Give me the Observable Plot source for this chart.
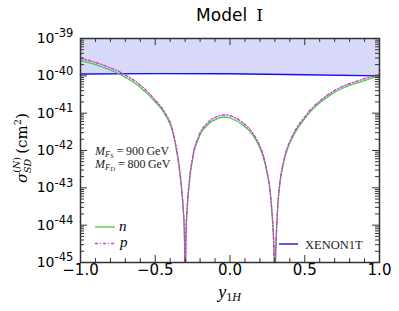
<!DOCTYPE html>
<html><head><meta charset="utf-8">
<script src="https://cdn.jsdelivr.net/npm/d3@7"></script>
<script src="https://cdn.jsdelivr.net/npm/@observablehq/plot@0.6"></script>
<style>
body{margin:0;background:#fff}
#chart{width:399px;height:311px}
</style>
</head><body><div id="chart"></div>
<script>
// Data: [y1H, log10(sigma_SD / cm^2)]
const nCurve = [[-1.0,-39.59],[-0.95,-39.64],[-0.9,-39.70],[-0.85,-39.77],[-0.8,-39.85],[-0.75,-39.93],[-0.7,-40.04],[-0.65,-40.16],[-0.6,-40.31],[-0.55,-40.49],[-0.5,-40.70],[-0.46,-40.88],[-0.43,-41.07],[-0.4,-41.30],[-0.38,-41.56],[-0.365,-41.84],[-0.35,-42.18],[-0.336,-42.58],[-0.325,-42.98],[-0.318,-43.29],[-0.311,-43.70],[-0.306,-44.10],[-0.303,-44.70],[-0.2995,-46.5],[-0.296,-44.70],[-0.293,-44.10],[-0.287,-43.60],[-0.282,-43.29],[-0.273,-42.90],[-0.264,-42.58],[-0.252,-42.28],[-0.242,-42.05],[-0.22,-41.78],[-0.197,-41.55],[-0.165,-41.38],[-0.13,-41.24],[-0.09,-41.16],[-0.052,-41.11],[-0.02,-41.11],[0.003,-41.13],[0.037,-41.19],[0.08,-41.30],[0.126,-41.46],[0.16,-41.63],[0.193,-41.87],[0.217,-42.10],[0.237,-42.40],[0.253,-42.70],[0.266,-43.03],[0.274,-43.35],[0.282,-43.74],[0.288,-44.10],[0.293,-44.55],[0.2965,-45.1],[0.2997,-46.5],[0.303,-45.2],[0.309,-44.37],[0.314,-43.90],[0.32,-43.47],[0.328,-43.10],[0.338,-42.76],[0.355,-42.40],[0.371,-42.13],[0.39,-41.90],[0.416,-41.67],[0.45,-41.42],[0.483,-41.24],[0.538,-40.96],[0.605,-40.71],[0.672,-40.51],[0.761,-40.32],[0.851,-40.19],[0.92,-40.10],[0.962,-40.04],[1.0,-40.00]];
const pCurve = [[-1.0,-39.53],[-0.95,-39.58],[-0.9,-39.64],[-0.85,-39.71],[-0.8,-39.79],[-0.75,-39.87],[-0.7,-39.98],[-0.65,-40.10],[-0.6,-40.25],[-0.55,-40.43],[-0.5,-40.65],[-0.46,-40.83],[-0.43,-41.02],[-0.4,-41.25],[-0.38,-41.52],[-0.365,-41.80],[-0.35,-42.14],[-0.336,-42.55],[-0.325,-42.95],[-0.318,-43.27],[-0.311,-43.68],[-0.306,-44.08],[-0.303,-44.68],[-0.2995,-46.5],[-0.296,-44.68],[-0.293,-44.08],[-0.287,-43.58],[-0.282,-43.26],[-0.273,-42.87],[-0.264,-42.54],[-0.252,-42.24],[-0.242,-42.0],[-0.22,-41.73],[-0.197,-41.5],[-0.165,-41.32],[-0.13,-41.18],[-0.09,-41.10],[-0.052,-41.05],[-0.02,-41.05],[0.003,-41.07],[0.037,-41.13],[0.08,-41.24],[0.126,-41.40],[0.16,-41.58],[0.193,-41.82],[0.217,-42.06],[0.237,-42.36],[0.253,-42.67],[0.266,-43.0],[0.274,-43.32],[0.282,-43.72],[0.288,-44.08],[0.293,-44.53],[0.2965,-45.08],[0.2997,-46.5],[0.303,-45.18],[0.309,-44.35],[0.314,-43.88],[0.32,-43.44],[0.328,-43.06],[0.338,-42.72],[0.355,-42.35],[0.371,-42.08],[0.39,-41.85],[0.416,-41.62],[0.45,-41.37],[0.483,-41.19],[0.538,-40.91],[0.605,-40.66],[0.672,-40.46],[0.761,-40.27],[0.851,-40.14],[0.92,-40.05],[0.962,-39.99],[1.0,-39.96]];
const xenon1T = [[-1.0,-39.95],[-0.5,-39.94],[0.0,-39.945],[0.5,-39.97],[1.0,-40.0]];

const xDomain = [-1, 1];
const yExpDomain = [-45, -39];
const xMajorTicks = [-1.0, -0.5, 0.0, 0.5, 1.0];
const xMinorTicks = [-0.9,-0.8,-0.7,-0.6,-0.4,-0.3,-0.2,-0.1,0.1,0.2,0.3,0.4,0.6,0.7,0.8,0.9];
const yTickExponents = [-45,-44,-43,-42,-41,-40,-39];
const yMinorMantissas = [2,3,4,5,6,7,8,9];

const titleText = "Model";
const titleNumeral = "Ⅰ";
const legendLabels = ["n", "p", "XENON1T"];
const massLabels = [["S", "900"], ["D", "800"]];

// layout
const W = 399, H = 311, mL = 80, mR = 20, mT = 38, mB = 49;
const plotW = W - mL - mR, plotH = H - mT - mB;
const pow = e => Math.pow(10, e);
const yMinor = yTickExponents.slice(0, -1).flatMap(e => yMinorMantissas.map(m => m * pow(e)));
const ink = "#333";
const green = "#3fcf3f", magenta = "#d23ad2", blue = "#1010f0";

const plot = Plot.plot({
  width: W, height: H,
  marginLeft: mL, marginRight: mR, marginTop: mT, marginBottom: mB,
  x: {domain: xDomain, axis: null},
  y: {type: "log", domain: yExpDomain.map(pow), axis: null},
  style: {fontFamily: "DejaVu Sans", background: "#fff", color: "#000"},
  marks: [
    Plot.areaY(xenon1T, {x: d => d[0], y1: d => pow(d[1]), y2: pow(yExpDomain[1]), fill: "#d8d8f9"}),
    Plot.line(xenon1T, {x: d => d[0], y: d => pow(d[1]), stroke: blue, strokeWidth: 1.4}),
    Plot.line(nCurve, {x: d => d[0], y: d => pow(d[1]), stroke: green, strokeWidth: 1.3, curve: "monotone-x", clip: true}),
    Plot.line(pCurve, {x: d => d[0], y: d => pow(d[1]), stroke: magenta, strokeWidth: 1.4, strokeDasharray: "3,2,1,2", curve: "monotone-x", clip: true}),
    // inward ticks
    Plot.tickX(xMajorTicks, {x: d => d, insetTop: plotH - 7, stroke: ink}),
    Plot.tickX(xMajorTicks, {x: d => d, insetBottom: plotH - 7, stroke: ink}),
    Plot.tickX(xMinorTicks, {x: d => d, insetTop: plotH - 4, stroke: ink}),
    Plot.tickX(xMinorTicks, {x: d => d, insetBottom: plotH - 4, stroke: ink}),
    Plot.tickY(yTickExponents, {y: d => pow(d), insetRight: plotW - 7, stroke: ink}),
    Plot.tickY(yTickExponents, {y: d => pow(d), insetLeft: plotW - 7, stroke: ink}),
    Plot.tickY(yMinor, {y: d => d, insetRight: plotW - 4, stroke: ink}),
    Plot.tickY(yMinor, {y: d => d, insetLeft: plotW - 4, stroke: ink}),
    Plot.frame({stroke: ink, strokeWidth: 1.5}),
    // tick labels
    Plot.text(xMajorTicks, {x: d => d, frameAnchor: "bottom", dy: 12.5, text: d => d3.format(".1f")(d), fontSize: 15, fill: "#000"}),
    Plot.text(yTickExponents, {y: d => pow(d), frameAnchor: "left", dx: -26, text: () => "10", textAnchor: "end", fontSize: 14, fill: "#000"}),
    Plot.text(yTickExponents, {y: d => pow(d), frameAnchor: "left", dx: -26, dy: -5, text: d => String(d), textAnchor: "start", fontSize: 11.5, fill: "#000"})
  ]
});

document.getElementById("chart").appendChild(plot);
const svg = d3.select(plot);
const xs = plot.scale("x");
const X = v => xs.apply(v);
const serif = "'Liberation Serif', 'DejaVu Serif', serif";

// title
const t = svg.append("text").attr("x", (mL + W - mR) / 2).attr("y", 21).attr("text-anchor", "middle")
  .attr("font-family", "DejaVu Sans").attr("font-size", 17).attr("fill", "#000");
t.append("tspan").text(titleText);
t.append("tspan").attr("dx", 9).attr("font-family", serif).attr("font-size", 17).text(titleNumeral);

// y label
const yl = svg.append("text").attr("transform", `translate(27,${(mT + H - mB) / 2 - 2}) rotate(-90)`)
  .attr("text-anchor", "middle").attr("font-family", "'DejaVu Serif', serif").attr("font-size", 15).attr("fill", "#000");
yl.append("tspan").attr("font-style", "italic").text("σ");
yl.append("tspan").attr("font-size", 9.5).attr("dy", -7).text("(");
yl.append("tspan").attr("font-size", 9.5).attr("font-style", "italic").text("N");
yl.append("tspan").attr("font-size", 9.5).text(")");
yl.append("tspan").attr("font-size", 9.5).attr("font-style", "italic").attr("dx", -16).attr("dy", 11).text("SD");
yl.append("tspan").attr("dy", -4).attr("dx", 5).text("(cm");
yl.append("tspan").attr("font-size", 10).attr("dy", -6).text("2");
yl.append("tspan").attr("dy", 6).text(")");

// x label
const xl = svg.append("text").attr("x", X(0)).attr("y", 298).attr("text-anchor", "middle")
  .attr("font-family", serif).attr("font-size", 18).attr("fill", "#000");
xl.append("tspan").attr("font-style", "italic").text("y");
xl.append("tspan").attr("font-size", 12).attr("dy", 3).text("1");
xl.append("tspan").attr("font-size", 12).attr("font-style", "italic").text("H");

// mass annotations
massLabels.forEach(([sub, val], i) => {
  const m = svg.append("text").attr("x", 95).attr("y", 154.5 + i * 13.5).attr("text-anchor", "start")
    .attr("font-family", serif).attr("font-size", 12).attr("fill", "#222");
  m.append("tspan").attr("font-style", "italic").text("M");
  m.append("tspan").attr("font-style", "italic").attr("font-size", 8.5).attr("dy", 2).text("F");
  m.append("tspan").attr("font-style", "italic").attr("font-size", 6.5).attr("dy", 1.2).text(sub);
  m.append("tspan").attr("dy", -3.2).attr("dx", 1).text("\u2009=\u2009" + val + "\u2009GeV");
});

// legend (inside axes)
const leg = svg.append("g").attr("text-anchor", "start");
leg.append("line").attr("x1", 95).attr("x2", 115).attr("y1", 227).attr("y2", 227)
  .attr("stroke", green).attr("stroke-width", 1.3);
leg.append("text").attr("x", 119).attr("y", 231).attr("text-anchor", "start").attr("font-family", serif).attr("font-style", "italic")
  .attr("font-size", 15).attr("fill", "#000").text(legendLabels[0]);
leg.append("line").attr("x1", 95).attr("x2", 116).attr("y1", 243.5).attr("y2", 243.5)
  .attr("stroke", magenta).attr("stroke-width", 1.4).attr("stroke-dasharray", "3,2,1,2");
leg.append("text").attr("x", 120).attr("y", 247).attr("text-anchor", "start").attr("font-family", serif).attr("font-style", "italic")
  .attr("font-size", 15).attr("fill", "#000").text(legendLabels[1]);
leg.append("line").attr("x1", 279).attr("x2", 298).attr("y1", 244).attr("y2", 244)
  .attr("stroke", blue).attr("stroke-width", 1.4);
leg.append("text").attr("x", 305).attr("y", 248.5).attr("text-anchor", "start").attr("font-family", serif)
  .attr("font-size", 12.5).attr("fill", "#222").text(legendLabels[2]);
</script>
</body></html>
